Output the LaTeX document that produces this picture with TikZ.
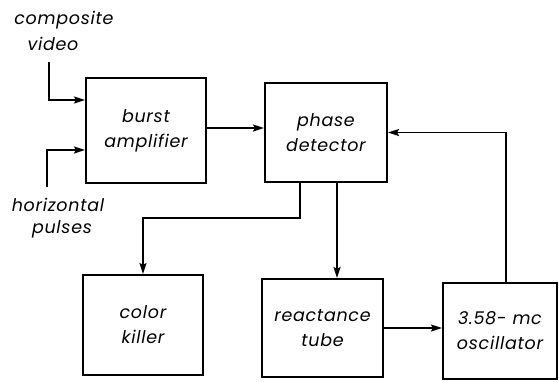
\documentclass[tikz,border=0pt]{standalone}
\usepackage{fontspec}
\setmainfont{Poppins}[LetterSpace=4]
\usetikzlibrary{arrows.meta}
\tikzset{
  blk/.style={draw, line width=2.1pt, align=center, inner sep=0pt, font=\fontsize{17.5}{25}\selectfont\itshape},
  lbl/.style={inner sep=0pt, font=\fontsize{17.5}{25}\selectfont\itshape},
  arr/.style={line width=1.9pt, -{Stealth[length=11pt,width=7pt,inset=2pt]}}
}
\begin{document}
\begin{tikzpicture}[x=1pt,y=-1pt]
\useasboundingbox (0,0) rectangle (559,381);
\node[blk, minimum width=120pt, minimum height=105pt] (ba) at (146,130.5) {burst\\amplifier};
\node[blk, minimum width=122pt, minimum height=99pt] (pd) at (326,132.5) {phase\\detector};
\node[blk, minimum width=120pt, minimum height=100pt] (ck) at (143,325) {color\\killer};
\node[blk, minimum width=121pt, minimum height=98pt] (rt) at (322.5,328) {reactance\\tube};
\node[blk, minimum width=114pt, minimum height=96pt] (osc) at (500,331) {3.58- mc\\oscillator};
\node[lbl] (t1) at (64,20) {composite};
\node[lbl] (t2) at (53,44) {video};
\node[lbl] (t3) at (58,205) {horizontal};
\node[lbl] (t4) at (62,229) {pulses};
\coordinate (cv) at (49,62);
\coordinate (hp) at (47,187);
\draw[arr] (cv) |- (ba.west |- 0,100);
\draw[arr] (hp) |- (ba.west |- 0,150);
\draw[arr] (ba.east |- 0,128) -- (pd.west |- 0,128);
\draw[arr] ([xshift=6pt]osc.north) |- (pd.east);
\draw[arr] ([xshift=-26pt]pd.south) -- ++(0,35) -| (ck.north);
\draw[arr] ([xshift=11pt]pd.south) -- ([xshift=11pt]pd.south |- rt.north);
\draw[arr] (rt.east) -- (rt.east -| osc.west);
\end{tikzpicture}
\end{document}
